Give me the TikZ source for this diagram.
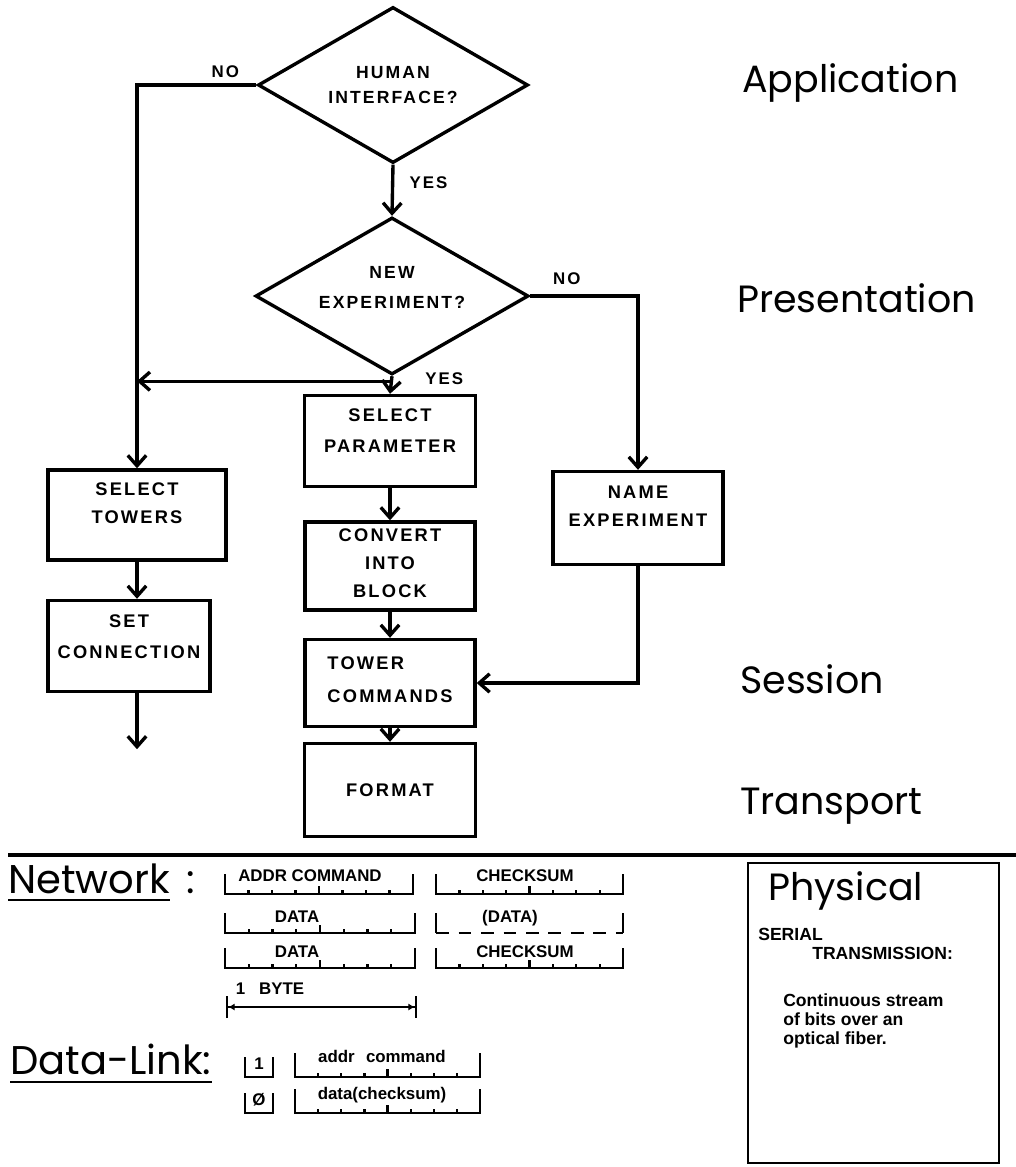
\documentclass[tikz,border=0pt]{standalone}
\usepackage{fontspec}
\setmainfont{Liberation Sans}
\newfontfamily\letfont{Liberation Sans}[LetterSpace=12]
\newfontfamily\layerfont{Poppins}
\usetikzlibrary{positioning,arrows.meta,shapes.geometric}

% one byte: left x, right x, bottom y, rise of the end bars
\newcommand{\byteframe}[4]{%
  \draw[frame] (#1,#3-#4) -- (#1,#3) -- (#2,#3) -- (#2,#3-#4);
  \foreach \k in {1,...,7}
    \draw[frame] ({#1+\k*(#2-#1)/8},#3) -- ++(0,{ifthenelse(\k==4,-8,-4)});
}
% one flag bit: left x, right x, bottom y
\newcommand{\flagbox}[3]{%
  \draw[frame] (#1,#3-20) |- (#2,#3) -- (#2,#3-20);
}

\begin{document}
\begin{tikzpicture}[x=0.025cm, y=-0.025cm,
  box/.style={draw, line width=2.4pt, align=center, inner sep=2pt,
    font=\letfont\bfseries\fontsize{13}{20}\selectfont},
  raised/.style={text depth=#1},
  decision/.style={diamond, aspect=2, draw, line width=2.4pt, align=center,
    inner sep=0pt, font=\letfont\bfseries\fontsize{12.5}{18}\selectfont},
  tag/.style={inner sep=0pt, font=\letfont\bfseries\fontsize{12}{14}\selectfont},
  layer/.style={font=\layerfont\fontsize{27}{30}\selectfont, anchor=base west,
    inner sep=0pt},
  arr/.style={-{Straight Barb[length=2.6mm, width=4.6mm]}, line width=2.4pt},
  frame/.style={line width=1.6pt},
  field/.style={anchor=base, inner sep=0pt, font=\bfseries\fontsize{12}{14}\selectfont},
  note/.style={anchor=base west, align=left, inner sep=0pt,
    font=\bfseries\fontsize{12.5}{13.3}\selectfont},
  dim/.style={{Bar[width=5.5mm]Latex[length=1.6mm,width=1.8mm]}-{Latex[length=1.6mm,width=1.8mm]Bar[width=5.5mm]},
    line width=1.6pt},
]
\useasboundingbox (0,0) rectangle (1016,1167);

% flow chart
\node[decision, minimum width=6.75cm, minimum height=3.9cm] (hif) at (393,85)
  {HUMAN\\INTERFACE?};
\node[decision, raised=12pt, minimum width=6.825cm, minimum height=3.925cm] (newexp) at (392,296)
  {NEW\\[3pt]EXPERIMENT?};
\node[box, raised=15pt, minimum width=4.275cm, minimum height=2.275cm] (selpar) at (390,441)
  {SELECT\\[2pt]PARAMETER};
\node[box, raised=4pt, minimum width=4.25cm, minimum height=2.2cm] (convblk) at (390,566)
  {CONVERT\\INTO\\BLOCK};
\node[box, raised=5pt, align=left, minimum width=4.25cm, minimum height=2.175cm] (towcmd) at (390,683)
  {TOWER\\[4pt]COMMANDS};
\node[box, minimum width=4.275cm, minimum height=2.325cm] (format) at (390,790)
  {FORMAT};
\node[box, raised=17pt, minimum width=4.25cm, minimum height=2.325cm] (namexp) at (638,518)
  {NAME\\EXPERIMENT};
\node[box, raised=17pt, minimum width=4.45cm, minimum height=2.25cm] (seltow) at (137,515)
  {SELECT\\TOWERS};
\node[box, raised=14pt, minimum width=4.05cm, minimum height=2.275cm] (setcon) at (129,646)
  {SET\\[2pt]CONNECTION};

\draw[arr] (hif.south) -- node[tag, pos=0.36, right=0.38cm] (yes1) {YES} (newexp.north);
\draw[arr] (hif.west) -| node[tag, pos=0.13, above=0.15cm] (no1) {NO} (seltow.north);
\draw[arr] (newexp.east) -| node[tag, pos=0.17, above=0.25cm] (no2) {NO} (namexp.north);
\draw[arr] (newexp.south) -- node[tag, pos=0.15, right=0.8cm] (yes2) {YES} (selpar.north);
\path (newexp.south) ++(0,5) coordinate (split);
\coordinate (join) at (split -| seltow.north);
\draw[arr] (split) -- (join);
\draw[arr] (selpar) -- (convblk);
\draw[arr] (convblk) -- (towcmd);
\draw[arr] (towcmd) -- (format);
\draw[arr] (namexp.south) |- (towcmd.east);
\draw[arr] (seltow.south) -- (seltow.south |- setcon.north);
\path (seltow.south |- setcon.south) ++(0,56) coordinate (onward);
\draw[arr] (seltow.south |- setcon.south) -- (onward);

% layer names
\node[layer] (app) at (742,92) {Application};
\node[layer] (pres) at (737,312) {Presentation};
\node[layer] (sess) at (740,693) {Session};
\node[layer] (trans) at (740,814) {Transport};

% lower half
\coordinate (rulel) at (8,855);
\coordinate (ruler) at (1016,855);
\draw[line width=2.8pt] (rulel) -- (ruler);

\node[layer, font=\layerfont\fontsize{28.5}{30}\selectfont] (net) at (8,893) {Network};
\node[layer, font=\layerfont\fontsize{28.5}{30}\selectfont] (netcolon) at (186,893) {:};
\draw[line width=1.4pt] ([yshift=-5pt]net.base west) -- ([yshift=-5pt]net.base east);

\byteframe{225}{413}{894}{20}
\node[field] (addrcmd) at (310,881) {ADDR COMMAND};
\byteframe{436}{623}{894}{20}
\node[field] (chk1) at (525,881) {CHECKSUM};
\byteframe{225}{415}{933}{20}
\node[field] (data1) at (297,922) {DATA};
\draw[frame] (436,913) -- (436,933);
\draw[frame, dash pattern=on 9pt off 7pt] (436,933) -- (623,933);
\draw[frame] (623,933) -- (623,913);
\node[field] (data2) at (510,922) {(DATA)};
\byteframe{225}{415}{968}{20}
\node[field] (data3) at (297,957) {DATA};
\byteframe{436}{623}{968}{20}
\node[field] (chk2) at (525,957) {CHECKSUM};
\node[field] (byte) at (270,994) {1\hspace{10pt}BYTE};
\coordinate (bytel) at (226,1007);
\coordinate (byter) at (417,1007);
\draw[dim] (bytel) -- (byter);

\node[layer, font=\layerfont\fontsize{28.5}{30}\selectfont] (dl) at (10,1074) {Data-Link:};
\draw[line width=1.4pt] ([yshift=-5.5pt]dl.base west) -- ([yshift=-5.5pt]dl.base east);

\flagbox{245}{273}{1077}
\node[field] (one) at (259,1069) {1};
\byteframe{295}{480}{1077}{24}
\node[field] (addrcmd2) at (382,1062) {addr\hspace{8pt}command};
\flagbox{245}{273}{1113}
\node[field] (zero) at (259,1105) {Ø};
\byteframe{295}{480}{1113}{24}
\node[field] (datachk) at (382,1099) {data(checksum)};

% physical layer panel
\node[draw, line width=1.4pt, minimum width=6.275cm, minimum height=7.5cm] (physbox)
  at (873.5,1013) {};
\node[layer] (phys) at (768,900) {Physical};
\node[note] (serial) at (758,940) {SERIAL};
\node[note] (transm) at (812,959) {TRANSMISSION:};
\node[note] (stream) at (783,1044) {Continuous stream\\of bits over an\\optical fiber.};
\end{tikzpicture}
\end{document}
